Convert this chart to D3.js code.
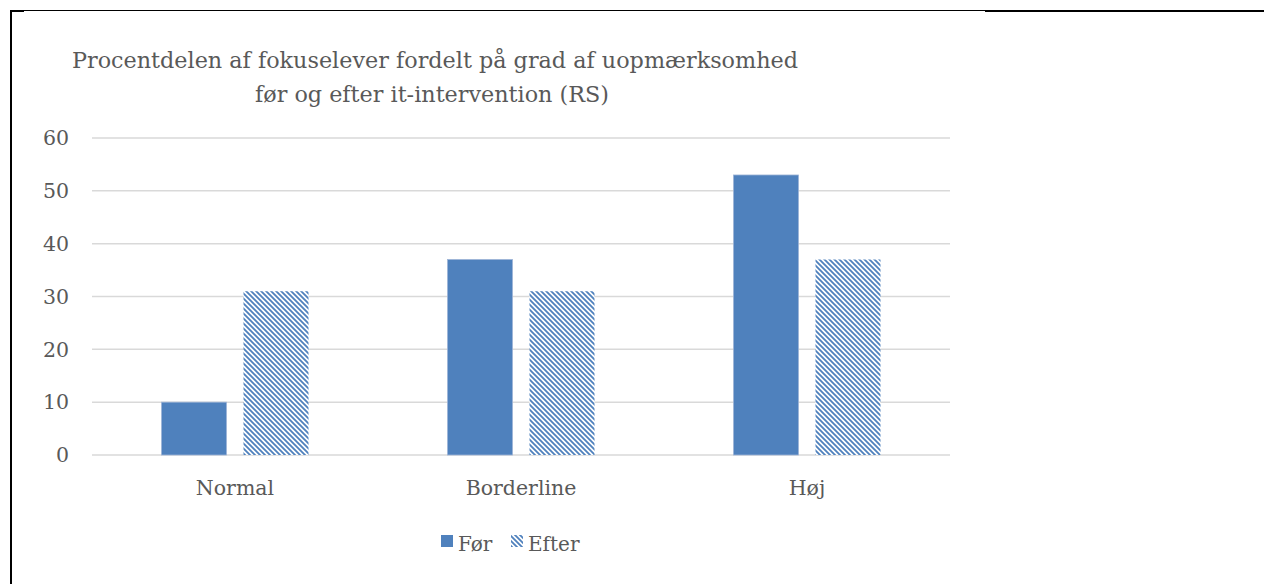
<!DOCTYPE html>
<html>
<head>
<meta charset="utf-8">
<script src="https://cdn.jsdelivr.net/npm/d3@7"></script>
<style>
  body { margin: 0; background: #fff; }
  svg text { font-family: "DejaVu Serif", serif; fill: #595959; }
</style>
</head>
<body>
<svg id="chart" width="1264" height="584"></svg>
<script>
const categories = ['Normal', 'Borderline', 'Høj'];
const seriesNames = ['Før', 'Efter'];
const forValues = [10, 37, 53];
const efterValues = [31, 31, 37];
const yTicks = [0, 10, 20, 30, 40, 50, 60];
const titleLines = ['Procentdelen af fokuselever fordelt på grad af uopmærksomhed',
  'før og efter it-intervention (RS)'];

const BLUE = '#4F81BD';
const svg = d3.select('#chart');

// Pattern for the "Efter" series: wide downward diagonal.
const defs = svg.append('defs');
const pat = defs.append('pattern')
  .attr('id', 'hatch').attr('patternUnits', 'userSpaceOnUse')
  .attr('width', 5).attr('height', 5);
pat.append('rect').attr('width', 5).attr('height', 5).attr('fill', '#fff');
pat.append('path').attr('d', 'M-1,-1 L6,6 M-1,4 L1,6 M4,-1 L6,1')
  .attr('stroke', BLUE).attr('stroke-width', 1.8);

// Frame lines
svg.append('line').attr('x1', 10).attr('x2', 985).attr('y1', 10.5).attr('y2', 10.5)
  .attr('stroke', '#000').attr('stroke-width', 1);
svg.append('line').attr('x1', 985).attr('x2', 1264).attr('y1', 11).attr('y2', 11)
  .attr('stroke', '#000').attr('stroke-width', 2);
svg.append('line').attr('x1', 10).attr('x2', 24).attr('y1', 11).attr('y2', 11)
  .attr('stroke', '#000').attr('stroke-width', 2);
svg.append('line').attr('x1', 11).attr('x2', 11).attr('y1', 10).attr('y2', 584)
  .attr('stroke', '#000').attr('stroke-width', 2);

// Title
svg.append('text').attr('x', 435).attr('y', 68).attr('text-anchor', 'middle')
  .attr('font-size', 22.3).text(titleLines[0]);
svg.append('text').attr('x', 432).attr('y', 102).attr('text-anchor', 'middle')
  .attr('font-size', 22.3).text(titleLines[1]);

const plotL = 92, plotR = 950, plotT = 138, plotB = 455;
const x = d3.scaleBand().domain(categories).range([plotL, plotR]);
const y = d3.scaleLinear().domain([0, 60]).range([plotB, plotT]);

// Gridlines
svg.append('g').selectAll('line').data(yTicks).join('line')
  .attr('x1', plotL).attr('x2', plotR)
  .attr('y1', d => y(d)).attr('y2', d => y(d))
  .attr('stroke', '#D9D9D9').attr('stroke-width', 1.5);

// Y tick labels
svg.append('g').selectAll('text').data(yTicks).join('text')
  .attr('x', 69).attr('y', d => y(d)).attr('dy', '0.35em')
  .attr('text-anchor', 'end').attr('font-size', 20.5).text(d => d);

// Category labels
svg.append('g').selectAll('text').data(categories).join('text')
  .attr('x', d => x(d) + x.bandwidth() / 2).attr('y', 495)
  .attr('text-anchor', 'middle').attr('font-size', 20.5).text(d => d);

const barW = 65, gap = 17;
const inner = d3.scaleOrdinal().domain(seriesNames).range([-(barW + gap / 2), gap / 2]);

const series = [
  { name: 'Før', values: forValues, fill: BLUE },
  { name: 'Efter', values: efterValues, fill: 'url(#hatch)' }
];

series.forEach(s => {
  svg.append('g').selectAll('rect').data(categories).join('rect')
    .attr('x', (c) => x(c) + x.bandwidth() / 2 + inner(s.name))
    .attr('y', (c, i) => y(s.values[i]))
    .attr('width', barW)
    .attr('height', (c, i) => y(0) - y(s.values[i]))
    .attr('fill', s.fill)
    .attr('stroke', s.name === 'Før' ? '#9DB3D6' : 'none')
    .attr('stroke-width', s.name === 'Før' ? 0.8 : 0);
});

// Legend
const leg = svg.append('g');
const legX = [441, 511];
series.forEach((s, i) => {
  leg.append('rect').attr('x', legX[i]).attr('y', 535).attr('width', 12).attr('height', 12)
    .attr('fill', s.fill);
  leg.append('text').attr('x', legX[i] + 17).attr('y', 551)
    .attr('font-size', 20).text(s.name);
});
</script>
</body>
</html>
